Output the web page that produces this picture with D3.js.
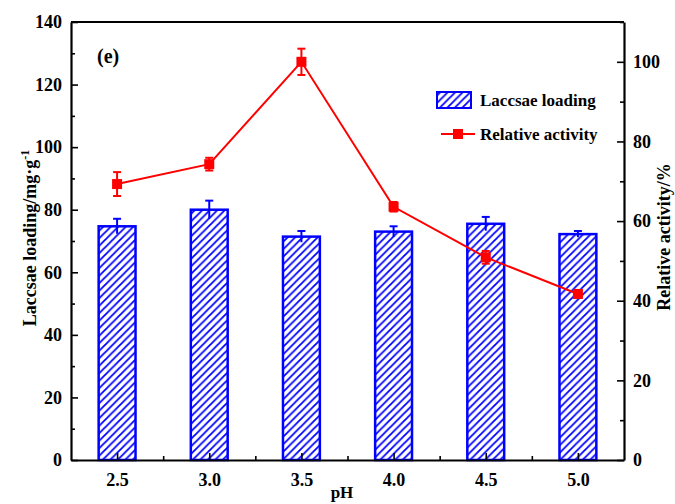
<!DOCTYPE html>
<html>
<head>
<meta charset="utf-8">
<script src="https://cdn.jsdelivr.net/npm/d3@7"></script>
<style>
  html, body { margin: 0; padding: 0; background: #fff; }
  svg { display: block; }
  text { font-family: "Liberation Serif", "Times New Roman", serif; font-weight: bold; }
</style>
</head>
<body>
<svg id="chart" width="675" height="504"></svg>
<script>
// pH values tested
const phValues = [2.5, 3.0, 3.5, 4.0, 4.5, 5.0];
// Laccase loading (mg/g) and its error
const loading = [74.7, 80.0, 71.4, 73.0, 75.5, 72.2];
const loadingErr = [2.4, 2.9, 1.8, 1.7, 2.2, 1.0];
// Relative activity (%) and its error
const activity = [69.3, 74.3, 100.0, 63.6, 50.9, 41.7];
const activityErr = [3.0, 1.6, 3.3, 1.2, 1.6, 0.8];
// Tick values
const leftTicks = [0, 20, 40, 60, 80, 100, 120, 140];
const rightTicks = [0, 20, 40, 60, 80, 100];

const svg = d3.select("#chart");
const m = { left: 71, right: 624, top: 22, bottom: 460 };

const x = d3.scaleLinear().domain([2.25, 5.25]).range([m.left, m.right]);
const yL = d3.scaleLinear().domain([0, 140]).range([m.bottom, m.top]);
const yR = d3.scaleLinear().domain([0, 110]).range([m.bottom, m.top]);

const blue = "#0000ff", red = "#ff0000";
const tickFont = 18;

// diagonal hatch for the bars
const defs = svg.append("defs");
const pat = defs.append("pattern")
  .attr("id", "hatch").attr("patternUnits", "userSpaceOnUse")
  .attr("width", 7.5).attr("height", 7.5);
pat.append("rect").attr("width", 7.5).attr("height", 7.5).attr("fill", "#fff");
pat.append("path")
  .attr("d", "M-2,2 L2,-2 M0,7.5 L7.5,0 M5.5,9.5 L9.5,5.5")
  .attr("stroke", blue).attr("stroke-width", 1.8);

const barHalf = 0.1;

// bars
svg.append("g").selectAll("rect").data(phValues).join("rect")
  .attr("x", d => x(d - barHalf))
  .attr("width", d => x(d + barHalf) - x(d - barHalf))
  .attr("y", (d, i) => yL(loading[i]))
  .attr("height", (d, i) => yL(0) - yL(loading[i]))
  .attr("fill", "url(#hatch)")
  .attr("stroke", blue).attr("stroke-width", 2.5);

// bar error bars
const be = svg.append("g").attr("stroke", blue).attr("stroke-width", 2);
phValues.forEach((d, i) => {
  be.append("line").attr("x1", x(d)).attr("x2", x(d))
    .attr("y1", yL(loading[i] - loadingErr[i])).attr("y2", yL(loading[i] + loadingErr[i]));
  be.append("line").attr("x1", x(d) - 4).attr("x2", x(d) + 4)
    .attr("y1", yL(loading[i] + loadingErr[i])).attr("y2", yL(loading[i] + loadingErr[i]));
});

// activity line
svg.append("path")
  .datum(phValues)
  .attr("fill", "none").attr("stroke", red).attr("stroke-width", 2)
  .attr("d", d3.line().x(d => x(d)).y((d, i) => yR(activity[i])));

// activity error bars
const ae = svg.append("g").attr("stroke", red).attr("stroke-width", 2);
phValues.forEach((d, i) => {
  const lo = yR(activity[i] - activityErr[i]), hi = yR(activity[i] + activityErr[i]);
  ae.append("line").attr("x1", x(d)).attr("x2", x(d)).attr("y1", lo).attr("y2", hi);
  [lo, hi].forEach(yy => ae.append("line")
    .attr("x1", x(d) - 4).attr("x2", x(d) + 4).attr("y1", yy).attr("y2", yy));
});

// activity markers
svg.append("g").selectAll("rect").data(phValues).join("rect")
  .attr("x", d => x(d) - 5).attr("width", 10)
  .attr("y", (d, i) => yR(activity[i]) - 5).attr("height", 10)
  .attr("fill", red);

// top border
svg.append("line").attr("x1", m.left).attr("x2", m.right).attr("y1", m.top).attr("y2", m.top)
  .attr("stroke", "#000").attr("stroke-width", 2);

// axes (ticks pointing inward)
function styleAxis(g) {
  g.select(".domain").attr("stroke-width", 2.2);
  g.selectAll(".tick line").attr("stroke-width", 1.6);
  g.selectAll(".tick text").attr("font-size", tickFont).attr("fill", "#000");
}
function minor(g) {
  g.select(".domain").remove();
  g.selectAll(".tick line").attr("stroke-width", 1.6);
}

// bottom axis
svg.append("g").attr("transform", `translate(0,${m.bottom})`)
  .call(d3.axisBottom(x).tickValues([2.75, 3.25, 3.75, 4.25, 4.75]).tickSize(-4).tickFormat(""))
  .call(minor);
const xa = svg.append("g").attr("transform", `translate(0,${m.bottom})`)
  .call(d3.axisBottom(x).tickValues(phValues).tickSizeInner(-7).tickSizeOuter(0)
    .tickFormat(d3.format(".1f")))
  .call(styleAxis);
xa.selectAll(".tick text").attr("y", 26).attr("dy", 0);

// left axis
svg.append("g").attr("transform", `translate(${m.left},0)`)
  .call(d3.axisLeft(yL).tickValues(d3.range(10, 140, 20)).tickSize(-4).tickFormat(""))
  .call(minor);
svg.append("g").attr("transform", `translate(${m.left},0)`)
  .call(d3.axisLeft(yL).tickValues(leftTicks).tickSizeInner(-7).tickSizeOuter(0).tickPadding(9))
  .call(styleAxis);

// right axis
svg.append("g").attr("transform", `translate(${m.right},0)`)
  .call(d3.axisRight(yR).tickValues(d3.range(10, 111, 20)).tickSize(-4).tickFormat(""))
  .call(minor);
svg.append("g").attr("transform", `translate(${m.right},0)`)
  .call(d3.axisRight(yR).tickValues(rightTicks).tickSizeInner(-7).tickSizeOuter(0).tickPadding(9))
  .call(styleAxis);

// axis titles
svg.append("text").attr("x", 342).attr("y", 498).attr("text-anchor", "middle")
  .attr("font-size", 17).text("pH");

const lt = svg.append("text")
  .attr("transform", `translate(36,238) rotate(-90)`)
  .attr("text-anchor", "middle").attr("font-size", 18);
lt.append("tspan").text("Laccsae loading/mg·g");
lt.append("tspan").attr("dy", -7).attr("font-size", 12).text("-1");

svg.append("text")
  .attr("transform", `translate(670,237) rotate(-90)`)
  .attr("text-anchor", "middle").attr("font-size", 18)
  .text("Relative activity/%");

// panel tag
svg.append("text").attr("x", 97).attr("y", 63).attr("font-size", 20).text("(e)");

// legend
const lg = svg.append("g");
lg.append("rect").attr("x", 437).attr("y", 92).attr("width", 34).attr("height", 16)
  .attr("fill", "url(#hatch)").attr("stroke", blue).attr("stroke-width", 2);
lg.append("text").attr("x", 480).attr("y", 106).attr("font-size", 17).text("Laccsae loading");
lg.append("line").attr("x1", 441).attr("x2", 475).attr("y1", 134).attr("y2", 134)
  .attr("stroke", red).attr("stroke-width", 2);
lg.append("rect").attr("x", 453).attr("y", 129).attr("width", 10).attr("height", 10).attr("fill", red);
lg.append("text").attr("x", 480).attr("y", 140).attr("font-size", 17).text("Relative activity");
</script>
</body>
</html>
